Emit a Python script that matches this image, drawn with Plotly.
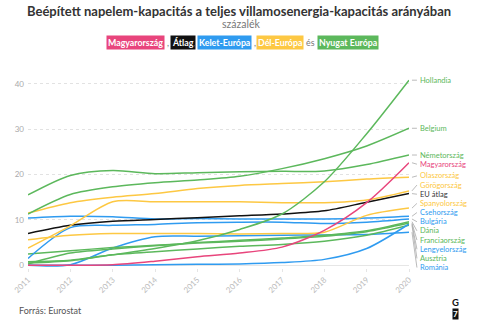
import plotly.graph_objects as go

years = [2011, 2012, 2013, 2014, 2015, 2016, 2017, 2018, 2019, 2020]

names = ["Hollandia", "Belgium", "Németország", "Magyarország", "Olaszország",
         "Görögország", "EU átlag", "Spanyolország", "Csehország", "Bulgária",
         "Dánia", "Franciaország", "Lengyelország", "Ausztria", "Románia"]
regions = ["west", "west", "west", "hu", "south",
           "south", "avg", "south", "east", "east",
           "west", "west", "east", "west", "east"]

hollandia = [0.5, 1.0, 2.3, 3.7, 5.4, 7.9, 11.3, 18.4, 29.0, 40.8]
belgium = [11.3, 15.6, 17.3, 18.2, 18.8, 19.6, 21.3, 23.5, 26.3, 30.2]
nemetorszag = [15.5, 19.8, 20.9, 20.2, 20.4, 20.6, 20.7, 20.8, 22.2, 24.3]
magyarorszag = [0.0, 0.0, 0.1, 0.9, 1.9, 2.7, 4.0, 7.7, 13.8, 22.6]
olaszorszag = [11.5, 13.8, 15.0, 15.8, 16.9, 17.6, 18.0, 18.4, 19.0, 19.4]
gorogorszag = [3.8, 8.7, 14.0, 14.0, 14.0, 14.0, 13.8, 13.8, 14.4, 16.4]
eu_atlag = [7.0, 8.8, 9.7, 10.1, 10.5, 10.9, 11.3, 12.0, 13.9, 15.8]
spanyolorszag = [5.6, 6.6, 7.0, 7.0, 7.0, 6.9, 7.0, 7.3, 11.0, 12.6]
csehorszag = [10.4, 10.8, 10.7, 10.2, 10.3, 10.2, 10.2, 10.2, 10.4, 10.8]
bulgaria = [1.5, 8.3, 8.8, 9.0, 9.4, 9.5, 9.5, 9.2, 9.5, 10.2]
dania = [0.3, 2.7, 3.6, 4.3, 5.0, 5.5, 6.0, 6.6, 7.6, 9.6]
franciaorszag = [2.5, 3.2, 3.9, 4.4, 4.9, 5.3, 5.8, 6.4, 7.4, 9.3]
lengyelorszag = [0.0, 0.0, 0.0, 0.1, 0.2, 0.3, 0.6, 1.3, 3.7, 9.1]
ausztria = [0.8, 1.1, 2.3, 3.0, 3.6, 4.2, 4.6, 5.3, 6.6, 8.8]
romania = [0.0, 0.1, 3.8, 6.3, 6.4, 6.5, 6.6, 6.7, 6.8, 7.3]

series = [hollandia, belgium, nemetorszag, magyarorszag, olaszorszag,
          gorogorszag, eu_atlag, spanyolorszag, csehorszag, bulgaria,
          dania, franciaorszag, lengyelorszag, ausztria, romania]

y_ticks = [0, 10, 20, 30, 40]

line_colors = {"west": "#5cb85c", "hu": "#e8457c", "south": "#fdc843",
               "avg": "#111111", "east": "#2f9bf0"}
label_colors = {"west": "#5cb85c", "hu": "#e8457c", "south": "#fdc843",
                "avg": "#333333", "east": "#2f9bf0"}

# plot area in pixels
L, R, T, B = 25, 409, 77.2, 267.7
W, H = R - L, B - T
FONT = "Lato"


def px(x):
    return (x - L) / W


def py(y):
    return (B - y) / H


fig = go.Figure()
draw_order = list(range(len(names)))[::-1]
for i in draw_order:
    fig.add_trace(go.Scatter(
        x=years, y=series[i], mode="lines", name=names[i],
        line=dict(color=line_colors[regions[i]], width=1.5,
                  shape="spline", smoothing=0.8),
        hoverinfo="skip", showlegend=False))

# label placement: avoid overlaps
gap = 2.02
floor = -0.5
ends = [(s[-1], k) for k, s in enumerate(series)]
ends.sort(reverse=True)
pos = {}
prev = None
for v, k in ends:
    p = v if prev is None else min(v, prev - gap)
    pos[k] = p
    prev = p
prev = None
for v, k in ends[::-1]:
    p = max(pos[k], floor) if prev is None else max(pos[k], prev + gap)
    pos[k] = p
    prev = p

shapes = []
annotations = []
for k, nm in enumerate(names):
    endv = series[k][-1]
    lab = pos[k]
    shapes.append(dict(type="line", xref="paper", yref="y",
                       x0=px(412), y0=endv, x1=px(417), y1=lab,
                       line=dict(color="#aaaaaa", width=0.8)))
    annotations.append(dict(xref="paper", yref="y", x=px(419.5), y=lab,
                            text=nm, showarrow=False, xanchor="left",
                            yanchor="middle", borderpad=0,
                            font=dict(family=FONT, size=7.5,
                                      color=label_colors[regions[k]])))

# title & subtitle
annotations.append(dict(xref="paper", yref="paper", x=px(238), y=py(11),
                        text="<b>Beépített napelem-kapacitás a teljes villamosenergia-kapacitás arányában</b>",
                        showarrow=False, xanchor="center", yanchor="middle",
                        font=dict(family=FONT, size=13, color="#333333")))
annotations.append(dict(xref="paper", yref="paper", x=px(240), y=py(24.5),
                        text="százalék", showarrow=False, xanchor="center",
                        yanchor="middle",
                        font=dict(family=FONT, size=10.5, color="#777777")))

# inline legend
legend_items = [("Magyarország", "#e8457c", 104), ("Átlag", "#111111", 168),
                ("Kelet-Európa", "#2f9bf0", 195), ("Dél-Európa", "#fdc843", 255),
                ("Nyugat Európa", "#5cb85c", 316)]
for txt, col, x0 in legend_items:
    annotations.append(dict(xref="paper", yref="paper", x=px(x0), y=py(42.5),
                            text="<b>" + txt + "</b>", showarrow=False,
                            xanchor="left", yanchor="middle", bgcolor=col,
                            borderpad=1,
                            font=dict(family=FONT, size=8.8, color="white")))
seps = [(",", 164.5), (",", 191.5), (",", 251.5), ("és", 304.5)]
for txt, x0 in seps:
    annotations.append(dict(xref="paper", yref="paper", x=px(x0), y=py(42.5),
                            text=txt, showarrow=False, xanchor="left",
                            yanchor="middle", borderpad=0,
                            font=dict(family=FONT, size=8.8, color="#777777")))

# footer
annotations.append(dict(xref="paper", yref="paper", x=px(14), y=py(310),
                        text="Forrás: Eurostat", showarrow=False,
                        xanchor="left", yanchor="middle",
                        font=dict(family=FONT, size=9, color="#555555")))
annotations.append(dict(xref="paper", yref="paper", x=px(456), y=py(302),
                        text="<b>G</b>", showarrow=False, xanchor="center",
                        yanchor="middle", borderpad=0,
                        font=dict(family=FONT, size=9.5, color="#111111")))
annotations.append(dict(xref="paper", yref="paper", x=px(456), y=py(314),
                        text="<b>7</b>", showarrow=False, xanchor="center",
                        yanchor="middle", bgcolor="#111111", borderpad=0,
                        font=dict(family=FONT, size=8, color="white")))

fig.update_layout(
    width=480, height=325,
    margin=dict(l=L, r=480 - R, t=T, b=325 - B, pad=0),
    paper_bgcolor="white", plot_bgcolor="white",
    shapes=shapes, annotations=annotations,
    font=dict(family=FONT),
    xaxis=dict(range=[2011, 2020], tickvals=years,
               ticktext=[str(y) for y in years], tickangle=-45,
               tickfont=dict(size=8, color="#bbbbbb"),
               showgrid=False, zeroline=False, showline=False,
               ticks="outside", ticklen=3, tickcolor="#e5e5e5"),
    yaxis=dict(range=[-0.6, 41.5], tickvals=y_ticks,
               tickfont=dict(size=8, color="#aaaaaa"),
               showgrid=True, gridcolor="#e2e2e2", griddash="dot",
               gridwidth=1, zeroline=True, zerolinecolor="#e6e6e6",
               zerolinewidth=1, showline=False, ticks="", ticklabelstandoff=3),
)

fig.write_html("out.html")
